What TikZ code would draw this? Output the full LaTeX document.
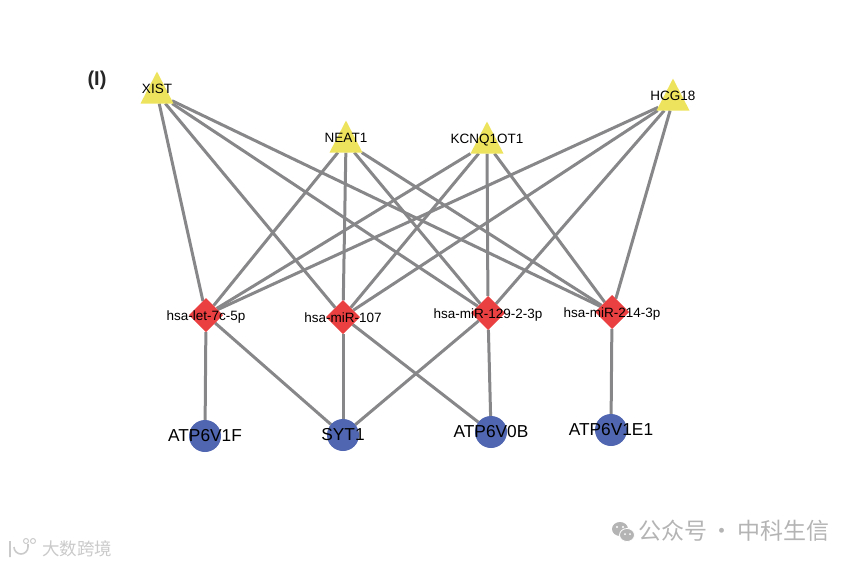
\documentclass[tikz,border=0pt]{standalone}
\usepackage{fontspec}
\setmainfont{Liberation Sans}
\newfontfamily\cjkfont{Noto Sans CJK SC}
\usepackage{tikz}
\usetikzlibrary{shapes.geometric,backgrounds}
\definecolor{lncyellow}{HTML}{EDE35C}
\definecolor{mirred}{HTML}{EA4042}
\definecolor{genblue}{HTML}{5066B0}
\definecolor{edgegray}{HTML}{87878A}
\definecolor{markgray}{HTML}{B4B4B4}
\begin{document}
\begin{tikzpicture}[x=1pt, y=-1pt,
  small/.style={font=\fontsize{13.5}{16}\selectfont, text height=10pt, text depth=3pt, inner sep=0pt},
  lnc/.style={isosceles triangle, isosceles triangle stretches, shape border rotate=90, fill=lncyellow, inner sep=0pt, outer sep=0pt, minimum width=33pt, minimum height=32pt, label={[small, yshift=4pt]center:#1}},
  mir/.style={diamond, fill=mirred, inner sep=0pt, outer sep=0pt, minimum size=34pt, label={[small, yshift=-1.5pt]center:#1}},
  gen/.style={circle, fill=genblue, inner sep=0pt, outer sep=0pt, minimum size=32pt, label={[font=\fontsize{17.3}{20}\selectfont, text height=12.5pt, text depth=3pt, inner sep=0pt, yshift=-1.2pt]center:#1}},
  link/.style={draw=edgegray, line width=3pt}]
\useasboundingbox (0,0) rectangle (855,565);
\node[font=\bfseries\fontsize{20}{24}\selectfont, text=black!85] (tag) at (97,80) {(I)};
\node[lnc=XIST] (xist) at (157,93.5) {};
\node[lnc=NEAT1] (neat) at (346,142.5) {};
\node[lnc=KCNQ1OT1] (kcn) at (487,143.5) {};
\node[lnc=HCG18] (hcg) at (673,100.5) {};
\node[mir=hsa-let-7c-5p] (let) at (206,315) {};
\node[mir=hsa-miR-107] (m107) at (343,317) {};
\node[mir=hsa-miR-129-2-3p] (m129) at (488,313) {};
\node[mir=hsa-miR-214-3p] (m214) at (612,312) {};
\node[gen=ATP6V1F] (v1f) at (205,436) {};
\node[gen=SYT1] (syt) at (343,435) {};
\node[gen=ATP6V0B] (v0b) at (491,432) {};
\node[gen=ATP6V1E1] (v1e) at (611,430) {};
\begin{pgfonlayer}{background}
\draw[link] (xist) -- (let);
\draw[link] (xist) -- (m107);
\draw[link] (xist) -- (m129);
\draw[link] (xist) -- (m214);
\draw[link] (neat) -- (let);
\draw[link] (neat) -- (m107);
\draw[link] (neat) -- (m129);
\draw[link] (neat) -- (m214);
\draw[link] (kcn) -- (let);
\draw[link] (kcn) -- (m107);
\draw[link] (kcn) -- (m129);
\draw[link] (kcn) -- (m214);
\draw[link] (hcg) -- (let);
\draw[link] (hcg) -- (m107);
\draw[link] (hcg) -- (m129);
\draw[link] (hcg) -- (m214);
\draw[link] (let) -- (v1f);
\draw[link] (let) -- (syt);
\draw[link] (m107) -- (syt);
\draw[link] (m107) -- (v0b);
\draw[link] (m129) -- (syt);
\draw[link] (m129) -- (v0b);
\draw[link] (m214) -- (v1e);
\end{pgfonlayer}
% watermarks
\node[font=\cjkfont\fontsize{23}{24}\selectfont, text=markgray, inner sep=0pt] (mark) at (734,531) {公众号\hspace{0.15em}·\hspace{0.15em}中科生信};
\node[font=\cjkfont\fontsize{17.5}{20}\selectfont, text=markgray!70, inner sep=0pt] (site) at (77,549) {大数跨境};
\fill[markgray] (620,529) ellipse (8 and 7);
\fill[markgray, draw=white, line width=0.8pt] (627,535) ellipse (7.5 and 6.5);
\fill[white] (617,527) circle (1.2) (623,527) circle (1.2) (625,534) circle (1) (630,534) circle (1);
\draw[markgray!70, line width=1.6pt] (10,541) -- (10,557) (14,547) arc[start angle=180, end angle=0, radius=7] -- ++(0,-3);
\draw[markgray!70, line width=1pt] (26,541) circle (2.5) (33,541) circle (2.5);
\end{tikzpicture}
\end{document}
